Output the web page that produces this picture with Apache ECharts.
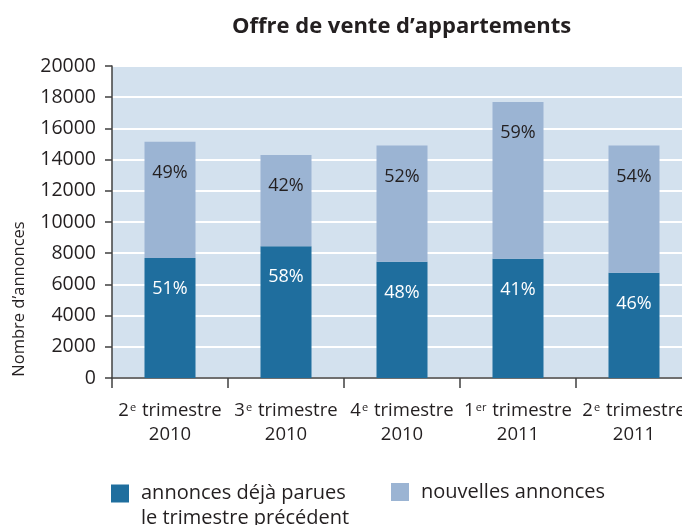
<!DOCTYPE html>
<html>
<head>
<meta charset="utf-8">
<script src="https://cdn.jsdelivr.net/npm/echarts@6/dist/echarts.min.js"></script>
<style>
  html, body { margin: 0; padding: 0; background: #fff; }
  #chart { width: 682px; height: 525px; }
</style>
</head>
<body>
<div id="chart"></div>
<script>
// trimestres
var rang = ['2', '3', '4', '1', '2'];
var suffixe = ['e', 'e', 'e', 'er', 'e'];
var annee = ['2010', '2010', '2010', '2011', '2011'];
var categories = rang.map(function (r, i) { return r + suffixe[i] + ' trimestre ' + annee[i]; });

// nombre d'annonces
var dejaParues = [7700, 8450, 7450, 7650, 6750];
var nouvelles = [7450, 5850, 7450, 10050, 8150];

// parts en %
var pctDeja = [51, 58, 48, 41, 46];
var pctNouv = [49, 42, 52, 59, 54];

var yTicks = { min: 0, max: 20000, interval: 2000 };

var FONT = 'Open Sans';
var TXT = '#231f20';

var chart = echarts.init(document.getElementById('chart'));

var legendRich = { t: { fontFamily: FONT, fontSize: 20, lineHeight: 25, color: TXT, padding: [0, 0, 0, 7] } };

var option = {
  animation: false,
  textStyle: { fontFamily: FONT },
  title: {
    text: 'Offre de vente d’appartements',
    left: 227,
    top: 11,
    textStyle: { fontFamily: FONT, fontWeight: 'bold', fontSize: 22, color: TXT }
  },
  grid: {
    left: 112,
    right: -10,
    top: 66,
    bottom: 147,
    outerBoundsMode: 'none',
    show: true,
    backgroundColor: '#d3e1ee',
    borderWidth: 0
  },
  legend: [{
    data: ['annonces déjà parues le trimestre précédent'],
    left: 111,
    top: 456,
    padding: 0,
    icon: 'rect',
    itemWidth: 18,
    itemHeight: 18,
    // ligne vide au-dessus : la 1re ligne reste centrée sur le carré
    formatter: function () { return ' \n{t|annonces déjà parues}\n{t|le trimestre précédent}'; },
    textStyle: { fontFamily: FONT, fontSize: 20, lineHeight: 25, color: TXT, rich: legendRich }
  }, {
    data: ['nouvelles annonces'],
    left: 391,
    top: 482,
    padding: 0,
    icon: 'rect',
    itemWidth: 18,
    itemHeight: 18,
    formatter: '{t|{name}}',
    textStyle: { fontFamily: FONT, fontSize: 20, color: TXT, rich: legendRich }
  }],
  xAxis: {
    type: 'category',
    data: categories,
    axisLine: { lineStyle: { color: '#404040', width: 1.5 } },
    axisTick: { show: true, length: 10, interval: 0, lineStyle: { color: '#404040', width: 1.5 } },
    axisLabel: {
      interval: 0,
      margin: 21,
      formatter: function (v, i) {
        return '{n|' + rang[i] + '}{s|' + suffixe[i] + '}{n| trimestre}\n{n|' + annee[i] + '}';
      },
      rich: {
        n: { fontFamily: FONT, fontSize: 18.5, lineHeight: 24, color: TXT },
        s: { fontFamily: FONT, fontSize: 11, color: TXT, verticalAlign: 'top', padding: [3, 1, 0, 1] }
      }
    }
  },
  yAxis: {
    type: 'value',
    min: yTicks.min,
    max: yTicks.max,
    interval: yTicks.interval,
    axisLine: { show: true, lineStyle: { color: '#404040', width: 1.5 } },
    axisTick: { show: true, length: 7, lineStyle: { color: '#404040', width: 1.5 } },
    axisLabel: {
      fontFamily: FONT, fontSize: 19.5, color: TXT, margin: 16,
      formatter: function (v) { return String(v); }
    },
    splitLine: { lineStyle: { color: '#ffffff', width: 2 } }
  },
  graphic: [{
    type: 'text',
    x: 19,
    y: 299,
    rotation: Math.PI / 2,
    style: {
      text: 'Nombre d’annonces',
      fontFamily: FONT,
      fontSize: 16.5,
      fill: TXT,
      align: 'center',
      verticalAlign: 'middle'
    }
  }],
  series: [{
    name: 'annonces déjà parues le trimestre précédent',
    type: 'bar',
    stack: 'total',
    barWidth: 51,
    data: dejaParues,
    itemStyle: { color: '#1f6e9e' },
    label: {
      show: true,
      position: 'insideTop',
      distance: 22,
      fontFamily: FONT,
      fontSize: 18,
      color: '#ffffff',
      formatter: function (p) { return pctDeja[p.dataIndex] + '%'; }
    }
  }, {
    name: 'nouvelles annonces',
    type: 'bar',
    stack: 'total',
    barWidth: 51,
    data: nouvelles,
    itemStyle: { color: '#9bb4d3' },
    label: {
      show: true,
      position: 'insideTop',
      distance: 22,
      fontFamily: FONT,
      fontSize: 18,
      color: TXT,
      formatter: function (p) { return pctNouv[p.dataIndex] + '%'; }
    }
  }]
};

chart.setOption(option);
</script>
</body>
</html>
